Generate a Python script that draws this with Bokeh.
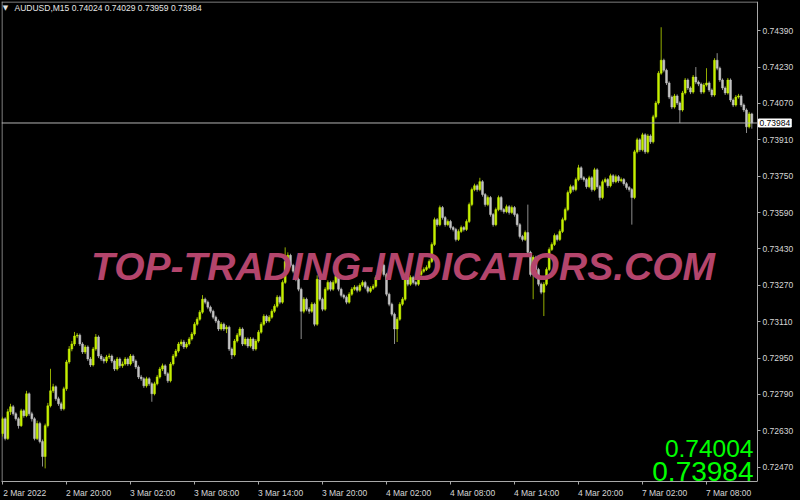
import numpy as np
from bokeh.plotting import figure
from bokeh.models import (Range1d, FixedTicker, LinearAxis, Label,
                          ColumnDataSource, PrintfTickFormatter)
from bokeh.embed import file_html
from bokeh.resources import INLINE

# ---------------- data (prices in points, 1 point = 0.00001) ----------------
symbol = "AUDUSD,M15"
watermark = "TOP-TRADING-INDICATORS.COM"
first_open_pts = 72618
close_pts = [
    72683, 72596, 72714, 72736, 72705, 72683, 72653, 72718, 72697, 72793, 72705, 72683,
    72596, 72662, 72583, 72517, 72653, 72740, 72806, 72824, 72771, 72749, 72727, 72815,
    72933, 72990, 73012, 73047, 73051, 73012, 72977, 72999, 72946, 72920, 72990, 73043,
    72959, 72946, 72937, 72955, 72959, 72937, 72902, 72946, 72916, 72924, 72946, 72924,
    72959, 72937, 72911, 72867, 72859, 72828, 72859, 72837, 72793, 72837, 72867, 72902,
    72916, 72881, 72850, 72924, 72959, 72981, 73012, 73021, 72999, 73012, 73034, 73056,
    73099, 73121, 73152, 73209, 73196, 73174, 73156, 73130, 73113, 73078, 73099, 73078,
    73086, 72990, 72964, 73025, 73051, 73078, 73012, 73034, 73003, 73034, 72990, 73025,
    73064, 73099, 73134, 73113, 73130, 73156, 73178, 73218, 73196, 73283, 73375, 73402,
    73358, 73332, 73297, 73253, 73156, 73209, 73165, 73156, 73187, 73099, 73297, 73209,
    73165, 73253, 73283, 73253, 73283, 73310, 73253, 73226, 73218, 73196, 73231, 73253,
    73262, 73248, 73270, 73283, 73262, 73244, 73257, 73266, 73305, 73332, 73358, 73318,
    73231, 73187, 73143, 73078, 73121, 73187, 73209, 73318, 73275, 73305, 73283, 73275,
    73318, 73332, 73340, 73349, 73375, 73450, 73559, 73537, 73612, 73568, 73537, 73551,
    73524, 73516, 73472, 73507, 73524, 73516, 73551, 73625, 73691, 73708, 73691, 73726,
    73669, 73625, 73656, 73581, 73537, 73603, 73656, 73603, 73594, 73616, 73590, 73612,
    73581, 73537, 73485, 73472, 73502, 73415, 73318, 73393, 73340, 73275, 73240, 73275,
    73340, 73428, 73450, 73489, 73472, 73507, 73559, 73603, 73678, 73704, 73691, 73735,
    73787, 73743, 73735, 73704, 73743, 73691, 73778, 73704, 73656, 73726, 73735, 73708,
    73752, 73726, 73748, 73730, 73735, 73717, 73700, 73691, 73656, 73857, 73910, 73866,
    73932, 73857, 73927, 73901, 74011, 74072, 74203, 74260, 74216, 74160, 74098, 74054,
    74103, 74072, 74041, 74116, 74173, 74138, 74120, 74186, 74164, 74155, 74120, 74151,
    74160, 74129, 74107, 74260, 74225, 74173, 74138, 74116, 74173, 74085, 74063, 74098,
    74103, 74063, 74041, 73967, 74024, 73984,
]
high_pts = [
    72692, 72690, 72727, 72749, 72744, 72712, 72690, 72727, 72725, 72806, 72799, 72714,
    72690, 72675, 72670, 72592, 72662, 72753, 72903, 72837, 72830, 72780, 72758, 72824,
    72942, 73003, 73025, 73065, 73060, 73058, 73020, 73008, 73006, 72955, 72999, 73056,
    73050, 72968, 72955, 72964, 72970, 72966, 72944, 72955, 72953, 72935, 72955, 72953,
    72968, 72966, 72944, 72918, 72876, 72866, 72868, 72866, 72844, 72846, 72876, 72911,
    72926, 72923, 72888, 72933, 72968, 72990, 73021, 73032, 73030, 73021, 73043, 73065,
    73108, 73130, 73161, 73227, 73216, 73203, 73181, 73163, 73137, 73120, 73108, 73106,
    73095, 73093, 72997, 73034, 73060, 73087, 73085, 73043, 73041, 73043, 73041, 73034,
    73073, 73108, 73143, 73141, 73139, 73165, 73187, 73227, 73225, 73292, 73437, 73415,
    73409, 73365, 73339, 73304, 73260, 73218, 73216, 73174, 73196, 73194, 73314, 73304,
    73216, 73262, 73292, 73290, 73292, 73319, 73317, 73260, 73233, 73225, 73240, 73262,
    73271, 73269, 73279, 73292, 73290, 73269, 73266, 73275, 73314, 73341, 73367, 73365,
    73325, 73238, 73194, 73150, 73130, 73196, 73218, 73327, 73325, 73314, 73312, 73290,
    73327, 73341, 73349, 73358, 73384, 73459, 73568, 73566, 73621, 73619, 73575, 73560,
    73558, 73531, 73523, 73516, 73533, 73531, 73560, 73634, 73700, 73717, 73715, 73743,
    73733, 73676, 73665, 73663, 73588, 73612, 73665, 73663, 73610, 73625, 73623, 73621,
    73619, 73588, 73544, 73492, 73511, 73625, 73422, 73402, 73400, 73347, 73282, 73284,
    73349, 73437, 73459, 73498, 73496, 73516, 73568, 73612, 73687, 73713, 73711, 73744,
    73800, 73794, 73750, 73742, 73752, 73750, 73787, 73785, 73711, 73735, 73744, 73742,
    73761, 73759, 73757, 73755, 73744, 73742, 73724, 73707, 73698, 73866, 73919, 73917,
    73941, 73939, 73936, 73934, 74020, 74081, 74212, 74405, 74267, 74223, 74167, 74105,
    74112, 74110, 74079, 74125, 74182, 74180, 74145, 74195, 74230, 74171, 74162, 74160,
    74225, 74167, 74136, 74269, 74291, 74232, 74180, 74145, 74182, 74180, 74092, 74107,
    74112, 74110, 74070, 74048, 74033, 74029,
]
low_pts = [
    72605, 72588, 72590, 72700, 72697, 72675, 72640, 72647, 72688, 72690, 72696, 72671,
    72588, 72590, 72575, 72473, 72465, 72645, 72733, 72797, 72762, 72740, 72718, 72720,
    72806, 72925, 72980, 73003, 73038, 73003, 72968, 72968, 72937, 72911, 72913, 72982,
    72950, 72937, 72926, 72928, 72946, 72928, 72893, 72895, 72907, 72907, 72917, 72915,
    72917, 72928, 72902, 72858, 72850, 72819, 72820, 72828, 72758, 72786, 72830, 72860,
    72893, 72872, 72841, 72843, 72917, 72952, 72974, 73003, 72990, 72992, 73005, 73027,
    73049, 73092, 73114, 73145, 73187, 73165, 73147, 73121, 73104, 73069, 73071, 73069,
    73060, 72981, 72946, 72957, 73018, 73043, 73003, 73005, 72994, 72996, 72981, 72983,
    73018, 73057, 73092, 73104, 73106, 73123, 73149, 73171, 73187, 73189, 73276, 73366,
    73349, 73323, 73288, 73244, 73034, 73147, 73156, 73145, 73149, 73090, 73092, 73200,
    73156, 73158, 73246, 73244, 73246, 73276, 73244, 73217, 73209, 73187, 73189, 73224,
    73246, 73239, 73241, 73263, 73253, 73235, 73237, 73250, 73259, 73298, 73325, 73309,
    73222, 73178, 73134, 73012, 73021, 73114, 73180, 73202, 73266, 73268, 73274, 73266,
    73268, 73311, 73325, 73333, 73342, 73368, 73443, 73528, 73530, 73559, 73528, 73530,
    73515, 73507, 73463, 73465, 73500, 73507, 73509, 73544, 73618, 73684, 73682, 73684,
    73660, 73616, 73618, 73572, 73528, 73530, 73596, 73594, 73585, 73587, 73581, 73583,
    73572, 73528, 73476, 73463, 73465, 73406, 73309, 73209, 73331, 73266, 73231, 73135,
    73268, 73333, 73421, 73443, 73463, 73465, 73500, 73552, 73596, 73671, 73682, 73684,
    73728, 73734, 73726, 73695, 73697, 73682, 73684, 73695, 73643, 73649, 73719, 73699,
    73701, 73717, 73719, 73721, 73723, 73708, 73691, 73682, 73537, 73649, 73850, 73857,
    73859, 73848, 73850, 73892, 73894, 74004, 74065, 74196, 74207, 74151, 74089, 74045,
    74047, 74063, 73984, 74034, 74109, 74129, 74111, 74113, 74155, 74146, 74111, 74113,
    74144, 74120, 74098, 74100, 74216, 74164, 74129, 74107, 74109, 74076, 74054, 74056,
    74091, 74054, 74032, 73940, 73960, 73959,
]
ask_price = 0.74004
x_tick_bars = [0, 24, 48, 72, 96, 120, 144, 168, 192, 216, 240, 264]
x_tick_labels = ["2 Mar 2022", "2 Mar 20:00", "3 Mar 02:00", "3 Mar 08:00",
                 "3 Mar 14:00", "3 Mar 20:00", "4 Mar 02:00", "4 Mar 08:00",
                 "4 Mar 14:00", "4 Mar 20:00", "7 Mar 02:00", "7 Mar 08:00"]
y_ticks = [0.72470, 0.72630, 0.72790, 0.72950, 0.73110, 0.73270, 0.73430,
           0.73590, 0.73750, 0.73910, 0.74070, 0.74230, 0.74390]

# ---------------- derived ----------------
close = np.array(close_pts) / 1e5
high = np.array(high_pts) / 1e5
low = np.array(low_pts) / 1e5
opn = np.array([first_open_pts] + close_pts[:-1]) / 1e5
idx = np.arange(len(close))
bull = close >= opn
last = close[-1]

FONT = "Liberation Sans"
BULL, BULL_WICK = "#c6f000", "#94ad00"
BEAR, BEAR_WICK = "#c4c4c4", "#8c8c8c"
AXIS = "#a8a8a8"
TXT = "#d6d6d6"

src = ColumnDataSource(dict(
    x=idx, h=high, l=low,
    top=np.maximum(opn, close), bot=np.minimum(opn, close),
    body=[BULL if b else BEAR for b in bull],
    wick=[BULL_WICK if b else BEAR_WICK for b in bull],
))

# ---------------- layout ----------------
# The frame covers the whole width; the price axis is pinned inside it
# (fixed_location), MT4 style, so the price tag next to it can be drawn too.
W, H = 800, 500
B_LEFT, B_TOP, B_BOTTOM = 1, 1, 17
FRAME_W, FRAME_H = W - B_LEFT, H - B_TOP - B_BOTTOM
PX_PER_BAR = 8 / 3
X_START = -0.375
AXIS_X = 283.125                          # bar coordinate of the price axis
X_END = X_START + FRAME_W / PX_PER_BAR
AXIS_PX = (AXIS_X - X_START) * PX_PER_BAR  # frame-relative pixel of the price axis
Y_START, Y_END = 0.724073, 0.745183
PX_PER_PRICE = FRAME_H / (Y_END - Y_START)

p = figure(width=W, height=H, output_backend="svg", toolbar_location=None,
           x_range=Range1d(X_START, X_END), y_range=Range1d(Y_START, Y_END),
           x_axis_location=None, y_axis_location=None,
           min_border_left=B_LEFT, min_border_top=B_TOP,
           min_border_right=0, min_border_bottom=B_BOTTOM,
           background_fill_color="black", border_fill_color="black",
           outline_line_color=None)
p.grid.visible = False

# x axis: labels start at their tick (MT4 style) -> label centred half a label to the right
label_shift = 8.3
x_label_pos = [b + label_shift for b in x_tick_bars]
xaxis = LinearAxis(ticker=FixedTicker(ticks=x_label_pos, minor_ticks=x_tick_bars),
                   major_label_overrides=dict(zip(x_label_pos, x_tick_labels)),
                   bounds=(X_START, AXIS_X),
                   axis_line_color=AXIS, major_tick_line_color=None,
                   major_tick_out=0, major_tick_in=0,
                   minor_tick_line_color=AXIS, minor_tick_out=3, minor_tick_in=0,
                   major_label_standoff=3, major_label_text_font=FONT,
                   major_label_text_font_size="8.5px", major_label_text_color=TXT)
p.add_layout(xaxis, "below")

yaxis = LinearAxis(ticker=FixedTicker(ticks=y_ticks), fixed_location=AXIS_X,
                   formatter=PrintfTickFormatter(format="%.5f"),
                   axis_line_color=AXIS, major_tick_line_color=AXIS,
                   major_tick_out=3, major_tick_in=0, minor_tick_line_color=None,
                   major_label_standoff=2, major_label_text_font=FONT,
                   major_label_text_font_size="8.5px", major_label_text_color=TXT)
p.add_layout(yaxis, "right")

# chart border (top and left edges of the MT4 chart window)
half_px_y = 0.5 / PX_PER_PRICE
half_px_x = 0.5 / PX_PER_BAR
p.segment(x0=[X_START, X_START + half_px_x], y0=[Y_END - half_px_y, Y_START],
          x1=[AXIS_X, X_START + half_px_x], y1=[Y_END - half_px_y, Y_END],
          line_color=AXIS, line_width=1)

# candles
p.segment(x0="x", y0="l", x1="x", y1="h", line_color="wick", line_width=1, source=src)
p.vbar(x="x", top="top", bottom="bot", width=0.72, fill_color="body",
       line_color="body", line_width=0.5, source=src)

# current price line (up to the price axis)
p.segment(x0=[X_START], y0=[last], x1=[AXIS_X], y1=[last], line_color="#b4b4b4", line_width=1)

# watermark
p.add_layout(Label(x=AXIS_PX / 2 + 23.5, y=215, x_units="screen", y_units="screen",
                   text=watermark, text_font=FONT, text_font_style="bold italic",
                   text_font_size="39px", text_color="#b4456c",
                   text_align="center", text_baseline="alphabetic"))

# header
p.add_layout(Label(x=4, y=FRAME_H - 8, x_units="screen", y_units="screen", text="\u25bc",
                   text_font="DejaVu Sans", text_font_size="7px", text_color="#e0e0e0",
                   text_align="center", text_baseline="middle"))
header = "%s  %.5f %.5f %.5f %.5f" % (symbol, opn[-1], high[-1], low[-1], close[-1])
p.add_layout(Label(x=13, y=FRAME_H - 8, x_units="screen", y_units="screen", text=header,
                   text_font=FONT, text_font_size="8.5px", text_color="#e6e6e6",
                   text_align="left", text_baseline="middle"))

# current price tag on the price axis
p.add_layout(Label(x=AXIS_PX + 1, y=last, x_units="screen", y_units="data",
                   text="%.5f" % last,
                   text_font=FONT, text_font_size="8.5px", text_color="black",
                   background_fill_color="white", border_line_color="white",
                   padding=1, text_align="left", text_baseline="middle"))

# big ask / bid numbers
p.add_layout(Label(x=AXIS_PX - 4, y=33, x_units="screen", y_units="screen",
                   text="%.5f" % ask_price,
                   text_font=FONT, text_font_size="24.5px", text_color="#00ff00",
                   text_align="right", text_baseline="alphabetic"))
p.add_layout(Label(x=AXIS_PX - 4, y=10, x_units="screen", y_units="screen",
                   text="%.5f" % last,
                   text_font=FONT, text_font_size="28px", text_color="#00ff00",
                   text_align="right", text_baseline="alphabetic"))

html = file_html(p, INLINE, title="AUDUSD,M15")
html = html.replace("<head>", "<head><style>html,body{margin:0;padding:0;background:#000;}</style>", 1)
open("out.html", "w").write(html)
